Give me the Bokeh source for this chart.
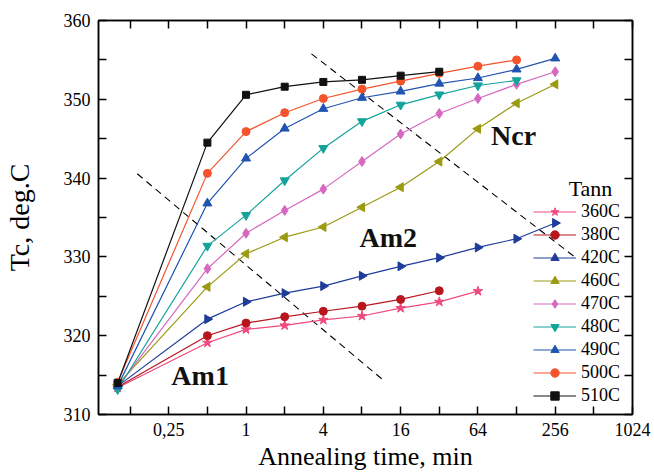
from bokeh.plotting import figure
from bokeh.models import (Range1d, FixedTicker, CustomJSTickFormatter, LogAxis,
                          LinearAxis, Label, Legend, LegendItem)
from bokeh.embed import file_html
from bokeh.resources import INLINE
import math

# ---- data ----
times = [0.1, 0.5, 1, 2, 4, 8, 16, 32, 64, 128, 256]

tc_360 = [313.4, 319.1, 320.8, 321.3, 322.0, 322.5, 323.5, 324.3, 325.65]
tc_380 = [313.5, 320.0, 321.6, 322.4, 323.1, 323.75, 324.6, 325.7]
tc_420 = [313.6, 322.1, 324.3, 325.4, 326.3, 327.6, 328.8, 329.9, 331.2, 332.3, 334.3]
tc_460 = [313.8, 326.2, 330.4, 332.5, 333.8, 336.3, 338.85, 342.1, 346.25, 349.5, 351.9]
tc_470 = [313.5, 328.5, 333.0, 335.9, 338.6, 342.1, 345.6, 348.2, 350.1, 351.9, 353.5]
tc_480 = [313.2, 331.4, 335.3, 339.7, 343.8, 347.2, 349.3, 350.6, 351.75, 352.4]
tc_490 = [313.6, 336.8, 342.5, 346.3, 348.8, 350.2, 351.0, 352.0, 352.7, 353.8, 355.2]
tc_500 = [314.1, 340.6, 345.9, 348.3, 350.1, 351.3, 352.3, 353.3, 354.2, 355.0]
tc_510 = [314.0, 344.5, 350.57, 351.6, 352.2, 352.47, 353.0, 353.5]

series_names = ["360C", "380C", "420C", "460C", "470C", "480C", "490C", "500C", "510C"]
series_values = [tc_360, tc_380, tc_420, tc_460, tc_470, tc_480, tc_490, tc_500, tc_510]

# dashed phase boundaries
bnd1_x = [0.142, 11.83]
bnd1_y = [340.55, 314.3]
bnd2_x = [3.23, 376.6]
bnd2_y = [355.77, 329.8]

x_ticks = [0.125, 0.25, 0.5, 1, 2, 4, 8, 16, 32, 64, 128, 256, 512, 1024]
x_tick_labels = ["", "0,25", "", "1", "", "4", "", "16", "", "64", "", "256", "", "1024"]
y_ticks = [310, 315, 320, 325, 330, 335, 340, 345, 350, 355, 360]
y_tick_labels = ["310", "", "320", "", "330", "", "340", "", "350", "", "360"]

# ---- styles ----
colors = ["#ef4a7c", "#b8161d", "#1f3c9a", "#9b9a12", "#d668bf",
          "#13a39b", "#2154b1", "#f4532c", "#111111"]
markers = ["star", "circle", "triangle", "triangle", "diamond",
           "inverted_triangle", "triangle", "circle", "square"]
angles = [0, 0, -math.pi / 2, math.pi / 2, 0, 0, 0, 0, 0]
sizes = [10, 8, 9, 9, 10, 9, 9, 8, 7]

FONT = "'Liberation Serif', 'Times New Roman', serif"

p = figure(width=654, height=474, x_axis_type="log",
           x_range=Range1d(0.0709, 1024), y_range=Range1d(310, 360),
           output_backend="svg", toolbar_location=None,
           min_border_left=98, min_border_right=22, min_border_top=20,
           min_border_bottom=60)
p.grid.visible = False
p.outline_line_color = "black"
p.outline_line_width = 1.5
p.background_fill_color = "white"
p.border_fill_color = "white"

fmt_code = """
let best = -1;
for (let i = 0; i < tv.length; i++) {
  if (Math.abs(tv[i] - tick) <= 1e-9 * Math.max(1, Math.abs(tv[i]))) { best = i; }
}
return best >= 0 ? tl[best] : "";
"""

def style_axis(ax, show_labels=True):
    ax.major_tick_in = 8
    ax.major_tick_out = 0
    ax.minor_tick_in = 0
    ax.minor_tick_out = 0
    ax.axis_line_width = 1.5
    ax.major_tick_line_width = 1.5
    ax.axis_line_color = "black"
    ax.major_tick_line_color = "black"
    ax.major_label_text_font = FONT
    ax.major_label_text_color = "black"
    ax.axis_label_text_font = FONT
    ax.axis_label_text_font_style = "normal"
    ax.axis_label_text_color = "black"
    if show_labels:
        ax.major_label_text_font_size = "18px"
    else:
        ax.major_label_text_font_size = "0px"
        ax.major_label_standoff = 0

xax = p.xaxis[0]
xax.ticker = FixedTicker(ticks=x_ticks, minor_ticks=[])
xax.formatter = CustomJSTickFormatter(args=dict(tv=x_ticks, tl=x_tick_labels), code=fmt_code)
style_axis(xax)
xax.major_label_standoff = 8
xax.axis_label = "Annealing time, min"
xax.axis_label_text_font_size = "26px"
xax.axis_label_standoff = 3

yax = p.yaxis[0]
yax.ticker = FixedTicker(ticks=y_ticks, minor_ticks=[])
yax.formatter = CustomJSTickFormatter(args=dict(tv=y_ticks, tl=y_tick_labels), code=fmt_code)
style_axis(yax)
yax.major_label_standoff = 8
yax.axis_label = "Tc, deg.C"
yax.axis_label_text_font_size = "28px"
yax.axis_label_standoff = 26

top = LogAxis(ticker=FixedTicker(ticks=x_ticks, minor_ticks=[]),
              formatter=CustomJSTickFormatter(code="return '';"))
style_axis(top, show_labels=False)
p.add_layout(top, "above")
right = LinearAxis(ticker=FixedTicker(ticks=y_ticks, minor_ticks=[]),
                   formatter=CustomJSTickFormatter(code="return '';"))
style_axis(right, show_labels=False)
p.add_layout(right, "right")

# dashed boundaries
p.line(bnd1_x, bnd1_y, line_color="black", line_dash="7 5", line_width=1.1)
p.line(bnd2_x, bnd2_y, line_color="black", line_dash="7 5", line_width=1.1)

items = []
for name, vals, c, m, a, s in zip(series_names, series_values, colors, markers, angles, sizes):
    xs = times[:len(vals)]
    lr = p.line(xs, vals, line_color=c, line_width=1.2)
    sr = p.scatter(xs, vals, marker=m, angle=a, size=s, fill_color=c, line_color=c)
    items.append(LegendItem(label=name, renderers=[lr, sr]))

legend = Legend(items=items, location=(435, 8), glyph_width=43, glyph_height=21,
                label_height=21, label_standoff=5, spacing=2, padding=0, margin=0,
                border_line_color=None, background_fill_alpha=0,
                label_text_font=FONT, label_text_font_size="18px",
                label_text_color="black")
p.add_layout(legend)

for txt, x, y in [("Am1", 0.262, 314.95), ("Am2", 7.66, 332.46), ("Ncr", 81.0, 345.4)]:
    p.add_layout(Label(x=x, y=y, text=txt, text_font=FONT, text_font_style="bold",
                       text_font_size="28px", text_color="#111111",
                       text_baseline="alphabetic", text_align="left"))

p.add_layout(Label(x=326, y=338.68, text="Tann", text_font=FONT, text_font_size="22px",
                   text_color="black", text_baseline="alphabetic", text_align="left"))

open("out.html", "w").write(file_html(p, INLINE))
